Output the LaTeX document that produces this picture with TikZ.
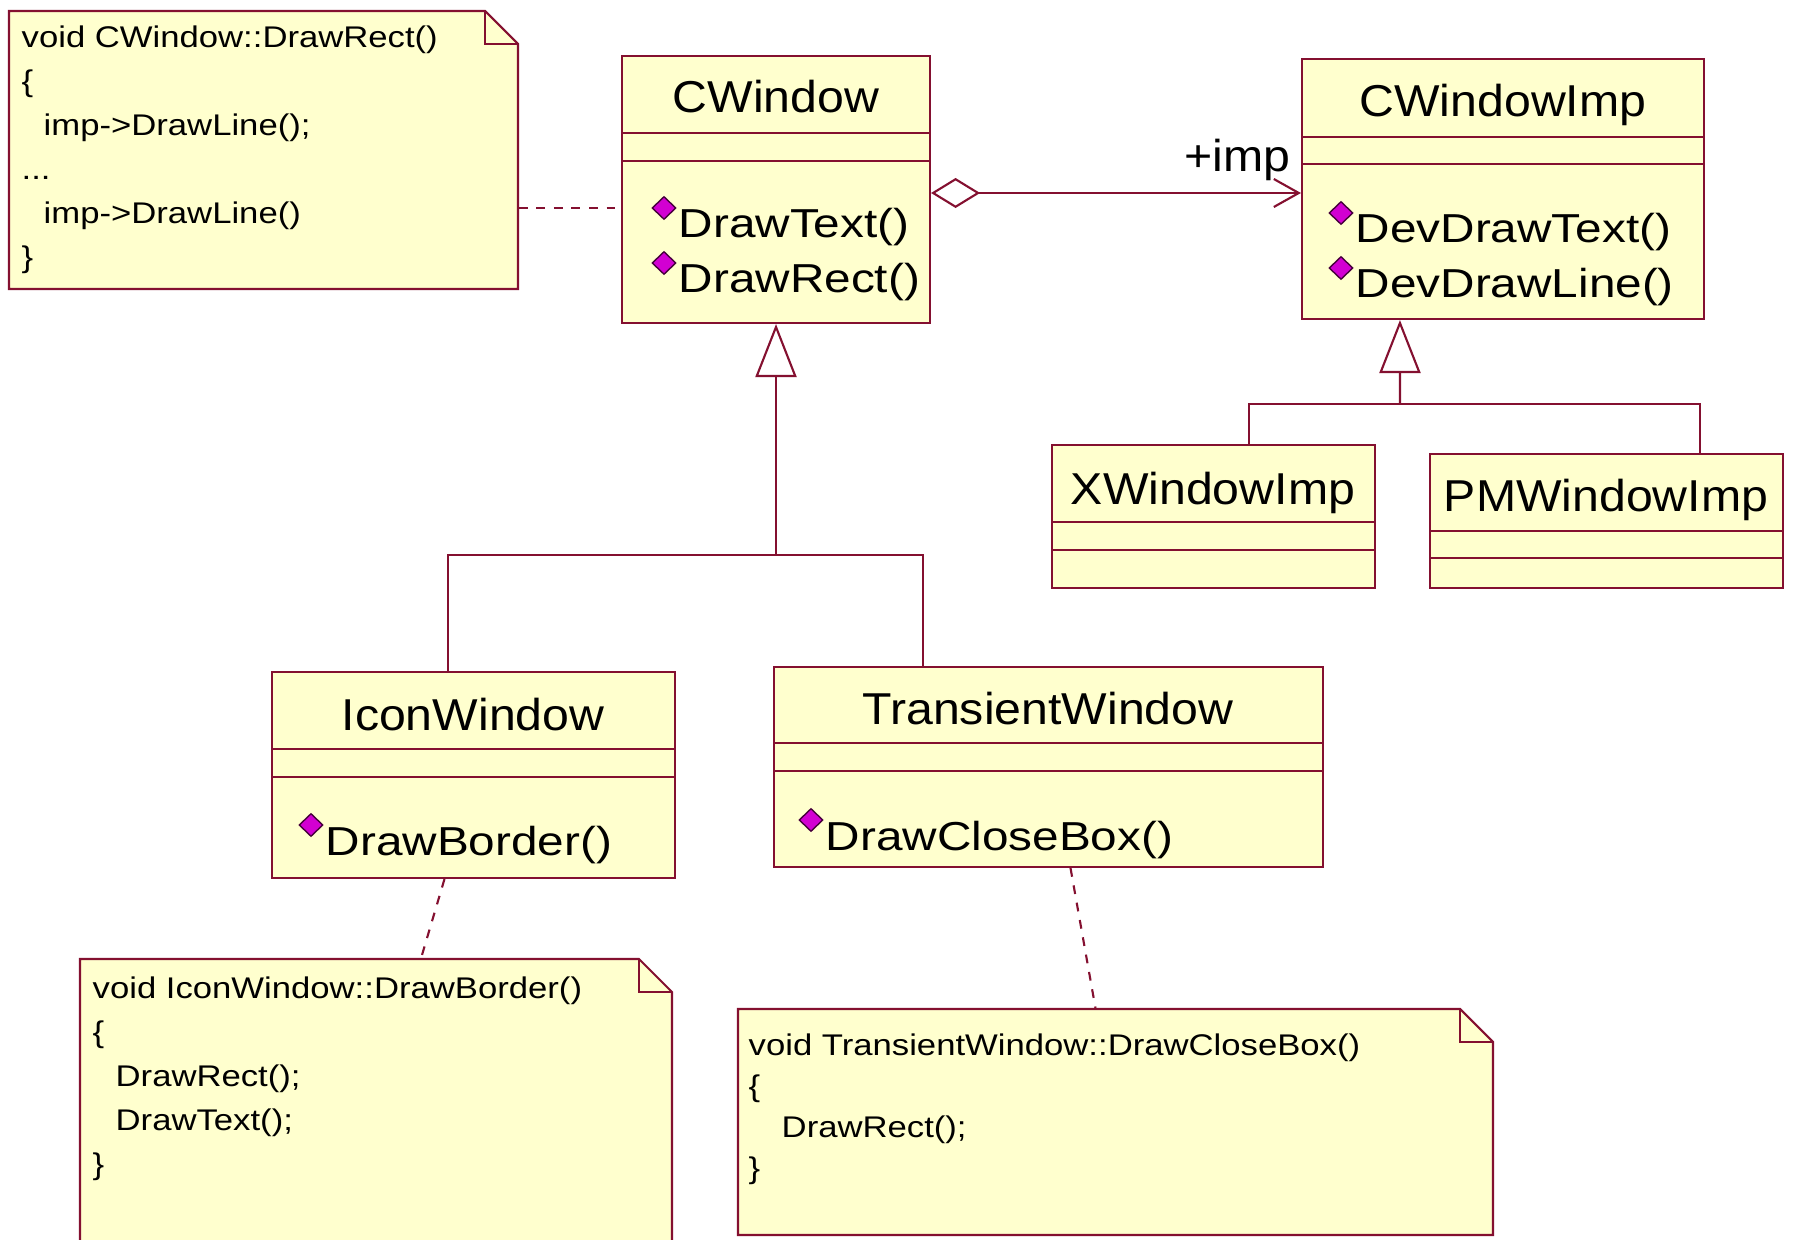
\documentclass[tikz,border=0pt]{standalone}
\usepackage{fontspec}
\setmainfont{Liberation Sans}
\newfontfamily\umlfont[FakeStretch=1.08]{Liberation Sans}
\newfontfamily\opfont[FakeStretch=1.18]{Liberation Sans}
\newfontfamily\notefont[FakeStretch=1.16]{Liberation Sans}
\usetikzlibrary{arrows.meta, shapes.geometric, fit}

\definecolor{umlred}{RGB}{132,16,48}
\definecolor{umlfill}{RGB}{255,255,206}
\definecolor{markfill}{RGB}{210,0,210}
\definecolor{markedge}{RGB}{70,0,60}
\newcommand{\notedots}{...}

\begin{document}
\begin{tikzpicture}[x=0.01cm, y=-0.01cm,
    classline/.style={draw=umlred, line width=0.6pt},
    classbox/.style={classline, fill=umlfill, inner sep=0pt},
    classname/.style={font=\umlfont\fontsize{12.7}{15}\selectfont, anchor=base, inner sep=0pt},
    opname/.style={font=\opfont\fontsize{11.5}{14}\selectfont, anchor=base west, inner sep=0pt},
    opmark/.style={diamond, fill=markfill, draw=markedge, line width=0.4pt,
        minimum width=0.24cm, minimum height=0.23cm, inner sep=0pt},
    notetext/.style={font=\notefont\fontsize{8.5}{10}\selectfont, anchor=base west, inner sep=0pt},
    notelink/.style={classline, dash pattern=on 2.5pt off 2.5pt},
    inherit/.style={classline, -{Triangle[open, length=0.53cm, width=0.41cm]}},
    aggr/.style={classline, {Diamond[open, length=0.49cm, width=0.30cm]}-{Straight Barb[length=0.25cm, width=0.28cm]}}]

    \fill[white] (0,0) rectangle (1794,1240);
    \useasboundingbox (0,0) rectangle (1794,1240);

    % classes: name / left / top / right / bottom / two compartment lines
    \foreach \n/\xa/\ya/\xb/\yb/\ca/\cb in {
        cwin/622/56/930/323/133/161,
        cimp/1302/59/1704/319/137/164,
        xwin/1052/445/1375/588/522/550,
        pmwin/1430/454/1783/588/531/558,
        iwin/272/672/675/878/749/777,
        twin/774/667/1323/867/743/771}
    {
        \node[classbox, fit={(\xa,\ya) (\xb,\yb)}] (\n) {};
        \draw[classline] (\xa,\ca) -- (\xb,\ca) (\xa,\cb) -- (\xb,\cb);
    }

    \foreach \n/\x/\y/\t in {
        cwin/776/113/CWindow,
        cimp/1503/117/CWindowImp,
        xwin/1213/505/XWindowImp,
        pmwin/1606/512/PMWindowImp,
        iwin/473/731/IconWindow,
        twin/1048/725/TransientWindow}
        \node[classname] (\n-name) at (\x,\y) {\t};

    % operations
    \foreach \n/\x/\y/\t in {
        cwin-op1/678/238/DrawText(),
        cwin-op2/678/293/DrawRect(),
        cimp-op1/1355/243/DevDrawText(),
        cimp-op2/1355/298/DevDrawLine(),
        iwin-op1/325/855/DrawBorder(),
        twin-op1/825/850/DrawCloseBox()}
    {
        \node[opmark] (\n-m) at (\x-14,\y-30) {};
        \node[opname] (\n) at (\x,\y) {\t};
    }

    % notes
    \foreach \n/\xa/\ya/\xb/\yb in {n1/9/11/518/289, n2/80/959/672/1250, n3/738/1009/1493/1235}
    {
        \draw[classline, fill=umlfill] (\xa,\ya) -- (\xb-33,\ya) -- (\xb,\ya+33) -- (\xb,\yb) -- (\xa,\yb) -- cycle;
        \draw[classline] (\xb-33,\ya) |- (\xb,\ya+33);
        \node[fit={(\xa,\ya) (\xb,\yb)}, inner sep=0pt] (\n) {};
    }

    \foreach \n/\x/\y/\t in {
        n1-1/21/48/void CWindow::DrawRect(),
        n1-2/21/92/\{,
        n1-3/43/136/imp->DrawLine();,
        n1-4/21/180/\notedots,
        n1-5/43/224/imp->DrawLine(),
        n1-6/21/268/\},
        n2-1/92/998/void IconWindow::DrawBorder(),
        n2-2/92/1042/\{,
        n2-3/115/1086/DrawRect();,
        n2-4/115/1130/DrawText();,
        n2-5/92/1174/\},
        n3-1/748/1055/void TransientWindow::DrawCloseBox(),
        n3-2/748/1096/\{,
        n3-3/781/1137/DrawRect();,
        n3-4/748/1178/\}}
        \node[notetext] (\n) at (\x,\y) {\t};

    % connectors
    \coordinate (aggy) at (0,193);
    \draw[aggr] (cwin.east |- aggy) -- (cimp.west |- aggy);
    \node[classname, anchor=base east] (implabel) at (1291,172) {+imp};

    \coordinate (cjoin) at (776,555);
    \draw[inherit] (cjoin) -- (cwin.south);
    \draw[classline] ([xshift=-0.255cm]iwin.north) |- (cjoin) -| ([xshift=-1.255cm]twin.north);

    \coordinate (ijoin) at (1400,404);
    \draw[inherit] (ijoin) -- ([xshift=-1.03cm]cimp.south);
    \draw[classline] ([xshift=0.355cm]xwin.north) |- (ijoin) -| ([xshift=0.935cm]pmwin.north);

    \draw[notelink] (n1.east |- cwin-op1-m) -- (cwin.west |- cwin-op1-m);
    \draw[notelink] ([xshift=-0.29cm]iwin.south) -- ([xshift=0.45cm]n2.north);
    \draw[notelink] ([xshift=0.22cm]twin.south) -- ([xshift=-0.2cm]n3.north);
\end{tikzpicture}
\end{document}
